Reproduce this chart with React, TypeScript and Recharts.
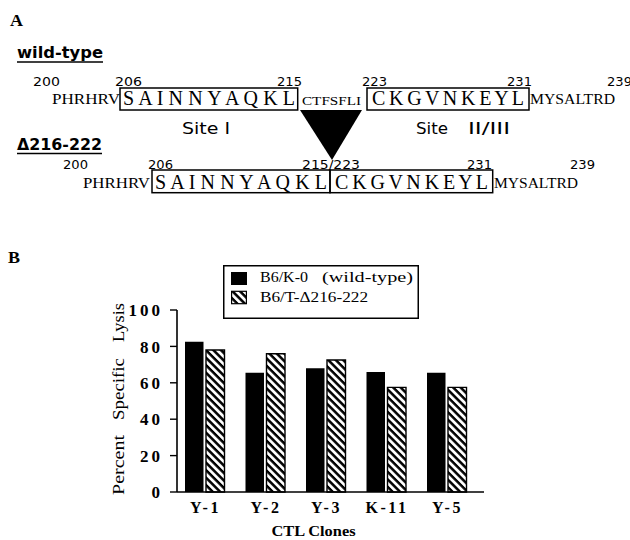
import React from 'react';
import { BarChart, Bar, XAxis, YAxis, Legend, Label } from 'recharts';

const clones = ['Y-1', 'Y-2', 'Y-3', 'K-11', 'Y-5'];
const wildTypeLysis = [82.5, 65.5, 68, 66, 65.5];
const deletionLysis = [78, 76, 72.5, 57.5, 57.5];
const yTicks = [0, 20, 40, 60, 80, 100];
const seriesNames = ['B6/K-0', 'B6/T-\u0394216-222'];
const seriesNotes = ['(wild-type)', ''];

const data = clones.map((clone, i) => ({ clone, wt: wildTypeLysis[i], del: deletionLysis[i] }));

const SERIF = '"Liberation Serif", "DejaVu Serif", serif';
const SANS = '"DejaVu Sans", "Noto Sans", sans-serif';

type TP = {
  x: number; y: number; w: number; size: number; family?: string; weight?: string;
  adjust?: 'spacing' | 'spacingAndGlyphs'; children: React.ReactNode;
};
const T = ({ x, y, w, size, family = SERIF, weight = 'normal', adjust = 'spacingAndGlyphs', children }: TP) => (
  <text x={x} y={y} fontSize={size} fontFamily={family} fontWeight={weight} textLength={w} lengthAdjust={adjust} fill="#000">
    {children}
  </text>
);

const HatchPattern = ({ id }: { id: string }) => (
  <pattern id={id} patternUnits="userSpaceOnUse" width={5.3} height={5.3} patternTransform="rotate(45)">
    <rect x={0} y={0} width={5.3} height={5.3} fill="#fff" />
    <rect x={0} y={0} width={5.3} height={2.5} fill="#000" />
  </pattern>
);

const PanelA = () => (
  <svg width={630} height={272} style={{ position: 'absolute', left: 0, top: 0, pointerEvents: 'none' }}>
    <T x={10} y={26} w={13} size={17} weight="bold">A</T>
    <T x={17} y={58} w={86} size={15} family={SANS} weight="bold">wild-type</T>
    <line x1={17} x2={103} y1={62} y2={62} stroke="#000" strokeWidth={1.5} />

    <T x={33} y={85.5} w={27} size={11.5} family={SANS}>200</T>
    <T x={115} y={85.5} w={27} size={11.5} family={SANS}>206</T>
    <T x={277} y={85.5} w={25} size={11.5} family={SANS}>215</T>
    <T x={362} y={85.5} w={25} size={11.5} family={SANS}>223</T>
    <T x={507} y={85.5} w={25} size={11.5} family={SANS}>231</T>
    <T x={607} y={85.5} w={25} size={11.5} family={SANS}>239</T>

    <T x={52} y={104} w={68} size={15}>PHRHRV</T>
    <rect x={120} y={88} width={177.7} height={22} fill="none" stroke="#000" strokeWidth={1.5} />
    <T x={123} y={105} w={172} size={20} adjust="spacing">S A I N N Y A Q K L</T>
    <T x={302} y={104.5} w={59} size={13}>CTFSFLI</T>
    <rect x={367} y={88} width={162} height={22} fill="none" stroke="#000" strokeWidth={1.5} />
    <T x={372} y={105} w={152} size={20} adjust="spacing">C K G V N K E Y L</T>
    <T x={530} y={104} w={85} size={15}>MYSALTRD</T>

    <polygon points="300,110 362,110 332,160" fill="#000" />

    <T x={182} y={134} w={48} size={16} family={SANS}>Site I</T>
    <T x={416} y={134} w={32} size={16} family={SANS}>Site</T>
    <T x={468} y={134} w={42} size={16} family={SANS}>II/III</T>

    <T x={17} y={149.5} w={85} size={15} family={SANS} weight="bold">{'\u0394216-222'}</T>
    <line x1={17} x2={102} y1={153.5} y2={153.5} stroke="#000" strokeWidth={1.5} />

    <T x={63} y={169} w={25} size={11.5} family={SANS}>200</T>
    <T x={148} y={169} w={25} size={11.5} family={SANS}>206</T>
    <T x={302} y={169} w={58} size={11.5} family={SANS}>215/223</T>
    <T x={467} y={169} w={25} size={11.5} family={SANS}>231</T>
    <T x={570} y={169} w={25} size={11.5} family={SANS}>239</T>

    <T x={83} y={187.5} w={67} size={15}>PHRHRV</T>
    <rect x={152} y={170} width={178} height={22.7} fill="none" stroke="#000" strokeWidth={1.5} />
    <T x={155} y={188.5} w={172} size={20} adjust="spacing">S A I N N Y A Q K L</T>
    <rect x={330} y={170} width={162.7} height={22.7} fill="none" stroke="#000" strokeWidth={1.5} />
    <T x={335} y={188.5} w={153} size={20} adjust="spacing">C K G V N K E Y L</T>
    <T x={494} y={187.5} w={84} size={15}>MYSALTRD</T>

    <T x={8} y={263} w={12} size={16} weight="bold">B</T>
  </svg>
);

const renderLegend = () => (
  <svg width={196} height={54} style={{ display: 'block' }}>
    <defs>
      <HatchPattern id="hatchLegend" />
    </defs>
    <rect x={0.75} y={0.75} width={194.5} height={52.5} fill="#fff" stroke="#000" strokeWidth={1.5} />
    <rect x={8} y={7} width={16} height={13} fill="#000" />
    <rect x={8.6} y={26.3} width={14.8} height={12.4} fill="url(#hatchLegend)" stroke="#000" strokeWidth={1.2} />
    <T x={37} y={17} w={48} size={14}>{seriesNames[0]}</T>
    <T x={99} y={17} w={91} size={14}>{seriesNotes[0]}</T>
    <T x={37} y={36.5} w={108} size={14}>{seriesNames[1]}</T>
  </svg>
);

const YTick = (props: any) => {
  const { x, y, payload } = props;
  return (
    <text x={x} y={y} dy="0.36em" textAnchor="end" fontSize={17} fontFamily={SERIF} fontWeight="bold"
      style={{ letterSpacing: '3px' }} fill="#000">
      {payload.value}
    </text>
  );
};

const XTick = (props: any) => {
  const { x, y, payload } = props;
  return (
    <text x={x} y={y} dx={1.25} dy="0.71em" textAnchor="middle" fontSize={16} fontFamily={SERIF} fontWeight="bold"
      style={{ letterSpacing: '2.5px' }} fill="#000">
      {payload.value}
    </text>
  );
};

const YLabel = (props: any) => {
  const vb = props.viewBox || { x: 117, y: 310, width: 60, height: 182 };
  const cx = vb.x + 1;
  const cy = vb.y + vb.height / 2 - 2;
  return (
    <g transform={`rotate(-90 ${cx} ${cy})`}>
      <text x={cx - 96} y={cy} dy="0.35em" fontSize={17} fontFamily={SERIF} textLength={60} lengthAdjust="spacingAndGlyphs" fill="#000">Percent</text>
      <text x={cx - 21} y={cy} dy="0.35em" fontSize={17} fontFamily={SERIF} textLength={62} lengthAdjust="spacingAndGlyphs" fill="#000">Specific</text>
      <text x={cx + 57} y={cy} dy="0.35em" fontSize={17} fontFamily={SERIF} textLength={39} lengthAdjust="spacingAndGlyphs" fill="#000">Lysis</text>
    </g>
  );
};

const XLabel = (props: any) => {
  const vb = props.viewBox || { x: 177, y: 492, width: 307, height: 40 };
  const cx = vb.x + vb.width / 2 - 17;
  return (
    <text x={cx} y={vb.y + 44} textAnchor="middle" fontSize={15} fontFamily={SERIF} fontWeight="bold"
      textLength={84} lengthAdjust="spacingAndGlyphs" fill="#000">
      CTL Clones
    </text>
  );
};

export default function App() {
  return (
    <div style={{ position: 'absolute', left: 0, top: 0, width: 630, height: 540, background: '#fff' }}>
      <BarChart width={630} height={540} data={data}
        margin={{ top: 310, right: 146, bottom: 8, left: 117 }} barGap={2.5} barSize={18.5}>
        <defs>
          <HatchPattern id="hatchBar" />
        </defs>
        <XAxis dataKey="clone" tickLine={false} axisLine={{ stroke: '#000', strokeWidth: 1.6 }} height={40}
          padding={{ left: -3, right: 7.5 }} tick={<XTick />} tickMargin={4} interval={0}>
          <Label content={<XLabel />} />
        </XAxis>
        <YAxis domain={[0, 100]} ticks={yTicks} tickSize={7} tickMargin={7} width={60} interval={0}
          axisLine={{ stroke: '#000', strokeWidth: 1.6 }} tickLine={{ stroke: '#000', strokeWidth: 1.4 }} tick={<YTick />}>
          <Label content={<YLabel />} />
        </YAxis>
        <Legend layout="horizontal" verticalAlign="middle" align="center" width={196} height={54}
          wrapperStyle={{ left: 223, top: 265, width: 196, height: 54 }} content={renderLegend} />
        <Bar dataKey="wt" name={seriesNames[0]} fill="#000" isAnimationActive={false} />
        <Bar dataKey="del" name={seriesNames[1]} fill="url(#hatchBar)" stroke="#000" strokeWidth={1.4} isAnimationActive={false} />
      </BarChart>
      <PanelA />
    </div>
  );
}
